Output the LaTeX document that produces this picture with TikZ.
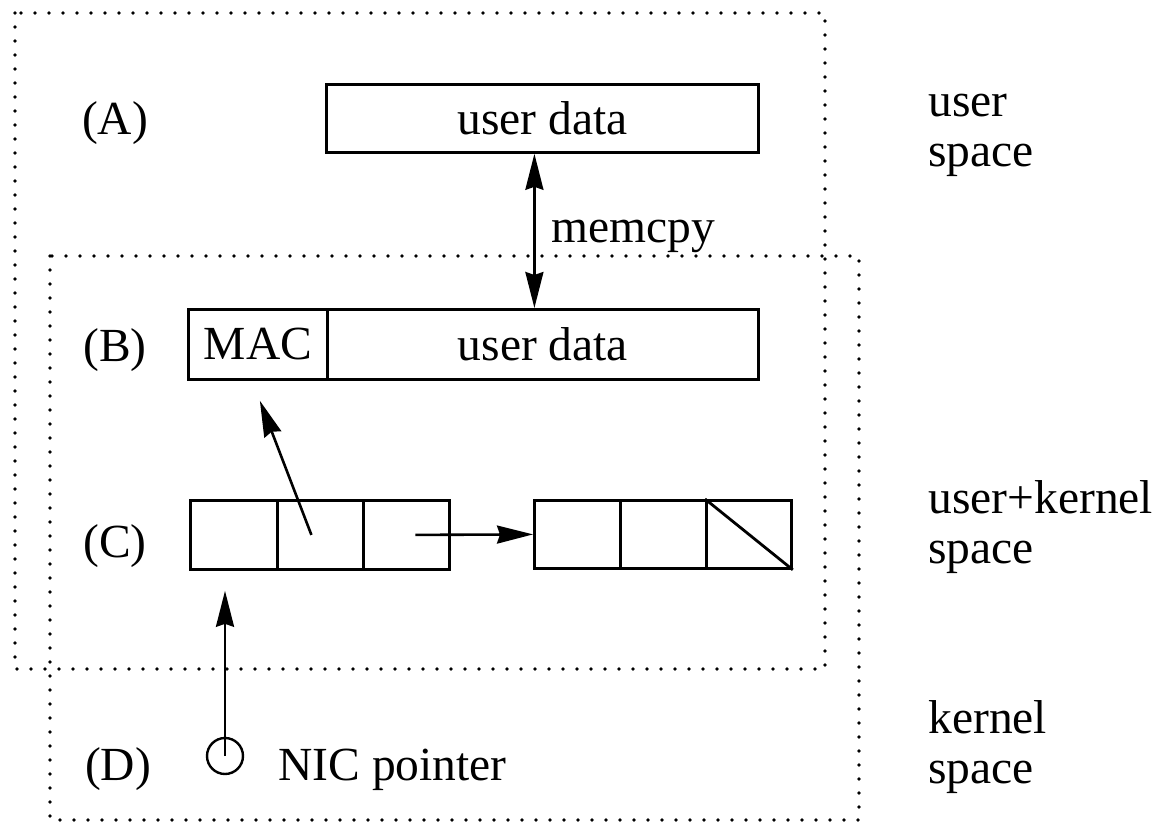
\documentclass[tikz,border=0pt]{standalone}
\usepackage{fontspec}
\setmainfont{Liberation Serif}
\usetikzlibrary{arrows.meta}

\begin{document}
\begin{tikzpicture}[x=0.5pt,y=-0.5pt,
  every node/.style={font=\fontsize{23.75pt}{25pt}\selectfont, inner sep=0pt},
  region/.style={line width=1.9pt, dash pattern=on 0pt off 7pt, line cap=round},
  cell/.style={draw, line width=1.4pt, anchor=north west, inner sep=0pt},
  head/.tip={Stealth[length=18pt,width=9pt,inset=1.5pt]},
  link/.style={line width=1.3pt, -head},
  biglink/.style={line width=1.3pt, head-head},
  tag/.style={anchor=base},
  side/.style={anchor=base west, align=left}]
\useasboundingbox (0,0) rectangle (1159,823);

% address-space regions
\draw[region] (15,13) rectangle (825,669);
\draw[region] (50,256) rectangle (859,820);

% (A) user buffer
\node[cell, minimum width=216pt, minimum height=34pt] (ua) at (325,83) {user data};

% (B) MAC header + user data
\node[cell, minimum width=69.5pt, minimum height=35pt] (mac) at (187,308) {MAC};
\node[cell, minimum width=215.5pt, minimum height=35pt] (ub) at (326,308) {user data};

% (C) linked descriptor lists
\node[cell, minimum width=43.5pt, minimum height=34.5pt] (c1) at (189,499) {};
\node[cell, minimum width=43pt, minimum height=34.5pt] (c2) at (276,499) {};
\node[cell, minimum width=43pt, minimum height=34.5pt] (c3) at (362,499) {};
\node[cell, minimum width=43pt, minimum height=34pt] (c4) at (533,499) {};
\node[cell, minimum width=43pt, minimum height=34pt] (c5) at (619,499) {};
\node[cell, minimum width=42.5pt, minimum height=34pt] (c6) at (705,499) {};
\draw[line width=1.4pt] (c6.north west) -- (c6.south east);

% (D) NIC pointer
\node[draw, circle, minimum size=18pt, line width=1.2pt] (nic) at (225,756) {};
\node[anchor=base west] (nictext) at (278,780) {NIC pointer};

% connectors
\draw[biglink] ([xshift=-4pt]ua.south) -- ([xshift=-4pt]ua.south |- ub.north);
\node[anchor=base west] (memcpy) at (551,243) {memcpy};
\draw[link] ([xshift=-4.5pt]c2.center) -- ([xshift=1pt,yshift=-10pt]mac.south);
\draw[link] ([xshift=4.5pt]c3.center) -- (c4.west);
\draw[link] (nic.center) -- ([yshift=-10pt]nic |- c1.south);

% row labels
\node[tag] (la) at (115,135) {(A)};
\node[tag] (lb) at (115,361) {(B)};
\node[tag] (lc) at (115,557) {(C)};
\node[tag] (ld) at (118,780) {(D)};

% space labels (anchored at the baseline of the last line)
\node[side] (sp1) at (928,167) {user\\space};
\node[side] (sp2) at (928,563) {user+kernel\\space};
\node[side] (sp3) at (928,783) {kernel\\space};
\end{tikzpicture}
\end{document}
